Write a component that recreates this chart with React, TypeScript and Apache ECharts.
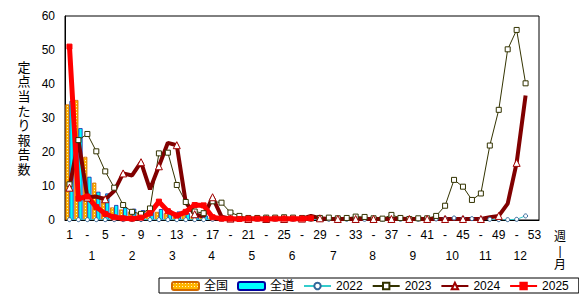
import React, { useEffect, useRef } from 'react';
import * as echarts from 'echarts';

const FONT = "'Liberation Sans', 'Noto Sans CJK JP', sans-serif";

const weeks: string[] = Array.from({ length: 53 }, (_, i) => String(i + 1));

// 2025: national / Hokkaido bars
const national2025 = [34, 35.3, 18.6, 11, 6.9, 3.7, 3.1, 2.5, 2.0, 2.6, 2.4, 2.0, 1.8, 1.5, 1.2, 1.0, 0.8, 0.6, 0.5, 0.4, 0.3, 0.3, 0.3, 0.2, 0.2, 0.2, 0.2, 0.2];
const hokkaido2025 = [35, 27, 12.7, 8.3, 7.8, 4.4, 3.7, 3.3, 2.9, 3.8, 3.2, 2.9, 2.5, 2.0, 1.6, 1.3, 1.0, 0.6, 0.5, 0.4, 0.3, 0.3, 0.3, 0.2, 0.2, 0.2, 0.2, 0.2];

const y2022 = [0.1, 0.1, 0.1, 0.1, 0.1, 0.1, 0.1, 0.1, 0.1, 0.1, 0.1, 0.1, 0.1, 0.1, 0.1, 0.1, 0.2, 0.2, 0.2, 0.2, 0.2, 0.2, 0.2, 0.2, 0.2, 0.2, 0.2, 0.2, 0.2, 0.2, 0.2, 0.2, 0.2, 0.2, 0.2, 0.2, 0.2, 0.2, 0.2, 0.2, 0.3, 0.3, 0.5, 0.6, 0.5, 0.4, 0.3, 0.2, 0.1, 0.1, 0.2, 1.2];
const y2023 = [10.5, 23.5, 25.3, 20.2, 14.3, 9.5, 4.4, 2.4, 1.8, 3.4, 19.6, 19.8, 10.3, 5.3, 2.5, 2.0, 5.5, 5.1, 2.2, 1.2, 0.6, 0.6, 0.7, 0.7, 0.8, 0.7, 0.6, 0.5, 0.6, 0.7, 0.5, 0.6, 1.0, 0.9, 0.5, 0.4, 1.5, 0.6, 0.3, 0.5, 0.5, 1.2, 4.2, 11.8, 9.8, 5.9, 7.8, 21.9, 32.4, 50.2, 55.9, 40.2];
const y2024 = [9.5, 23.5, 6.6, 6.9, 6.1, 8.5, 13.7, 13.1, 17, 9, 15.8, 22.7, 22, 5.2, 1.7, 1.0, 6.7, 1.0, 0.4, 0.3, 0.3, 0.3, 0.3, 0.3, 0.3, 0.3, 0.4, 1.2, 0.5, 0.3, 0.3, 0.3, 0.3, 0.3, 0.3, 0.3, 0.3, 0.4, 0.3, 0.3, 0.3, 0.3, 0.3, 0.3, 0.3, 0.3, 0.3, 0.8, 1.2, 4.8, 16.8, 36.6];
const y2025 = [51, 6.3, 6.9, 3.8, 1.8, 0.8, 0.5, 0.4, 0.7, 2.0, 5.4, 2.6, 1.3, 2.4, 4.4, 4.3, 0.8, 0.4, 0.4, 0.3, 0.4, 0.4, 0.3, 0.4, 0.4, 0.4, 0.4, 0.5];

const monthPositions = [3.5, 8.0, 12.5, 16.9, 21.4, 25.9, 30.5, 34.9, 39.4, 43.8, 47.5, 51.4];
const monthLabels = ['1', '2', '3', '4', '5', '6', '7', '8', '9', '10', '11', '12'];

const yTicks = { min: 0, max: 60, interval: 10 };

const dotPattern =
  'data:image/svg+xml;charset=utf-8,' +
  encodeURIComponent(
    '<svg xmlns="http://www.w3.org/2000/svg" width="3" height="3"><rect width="3" height="3" fill="#ffb400"/><rect x="1" y="1" width="1" height="1" fill="#fff4c0"/></svg>'
  );

export default function App() {
  const ref = useRef<HTMLDivElement>(null);
  useEffect(() => {
    document.body.style.margin = '0';
    if (!ref.current) return;
    const chart = echarts.init(ref.current, undefined, { renderer: 'svg' });
    chart.setOption({
      animation: false,
      textStyle: { fontFamily: FONT },
      grid: { left: 65, right: 40, top: 16, bottom: 79, show: true, borderColor: '#000', borderWidth: 1 },
      legend: {
        left: 159,
        top: 278,
        padding: [2, 10, 1, 12],
        borderColor: '#000',
        borderWidth: 1,
        itemGap: 9,
        itemWidth: 27,
        itemHeight: 8,
        textStyle: { fontSize: 12, color: '#000', fontFamily: FONT },
        data: ['全国', '全道', '2022', '2023', '2024', '2025'],
      },
      xAxis: [
        {
          type: 'category',
          data: weeks,
          boundaryGap: true,
          axisLine: { lineStyle: { color: '#000' } },
          axisTick: { show: false },
          axisLabel: {
            interval: 1,
            margin: 9,
            fontSize: 12,
            color: '#000',
            fontFamily: FONT,
            formatter: (v: string, i: number) => (i % 4 === 0 ? v : '-'),
          },
        },
        {
          type: 'value',
          position: 'bottom',
          min: 0.5,
          max: 53.5,
          offset: 21,
          axisLine: { show: false },
          axisTick: { show: false },
          splitLine: { show: false },
          axisLabel: {
            customValues: monthPositions,
            margin: 9,
            fontSize: 12,
            color: '#000',
            fontFamily: FONT,
            formatter: (v: number) => {
              const idx = monthPositions.findIndex((p) => Math.abs(p - v) < 0.01);
              return idx >= 0 ? monthLabels[idx] : '';
            },
          },
        },
      ],
      yAxis: {
        type: 'value',
        ...yTicks,
        axisLine: { show: true, lineStyle: { color: '#000' } },
        axisTick: { show: false },
        splitLine: { show: false },
        axisLabel: { fontSize: 12, color: '#000', margin: 10, fontFamily: FONT },
      },
      graphic: [
        {
          type: 'text',
          x: 24,
          y: 60,
          style: {
            text: '定\n点\n当\nた\nり\n報\n告\n数',
            font: `13px ${FONT}`,
            lineHeight: 14.6,
            fill: '#000',
            align: 'center',
            verticalAlign: 'top',
          },
        },
        {
          type: 'text',
          x: 560,
          y: 230,
          style: {
            text: '週\n|\n月',
            font: `12px ${FONT}`,
            lineHeight: 14,
            fill: '#000',
            align: 'center',
            verticalAlign: 'top',
          },
        },
      ],
      series: [
        {
          name: '全国',
          type: 'bar',
          data: national2025,
          barGap: '0%',
          barCategoryGap: '8%',
          itemStyle: {
            color: { image: dotPattern, repeat: 'repeat', imageWidth: 3, imageHeight: 3 },
            borderColor: '#d26900',
            borderWidth: 0.8,
          },
        },
        {
          name: '全道',
          type: 'bar',
          data: hokkaido2025,
          itemStyle: { color: '#00ffff', borderColor: '#0000a0', borderWidth: 0.7 },
        },
        {
          name: '2022',
          type: 'line',
          data: y2022,
          symbol: 'circle',
          symbolSize: 4,
          lineStyle: { color: '#33cccc', width: 1 },
          itemStyle: { color: '#ffffff', borderColor: '#336699', borderWidth: 1 },
        },
        {
          name: '2023',
          type: 'line',
          data: y2023,
          symbol: 'rect',
          symbolSize: 5,
          lineStyle: { color: '#333300', width: 1 },
          itemStyle: { color: '#ffffff', borderColor: '#333300', borderWidth: 1 },
        },
        {
          name: '2024',
          type: 'line',
          data: y2024,
          symbol: 'triangle',
          symbolSize: 7,
          lineStyle: { color: '#800000', width: 4 },
          itemStyle: { color: '#ffffff', borderColor: '#a00000', borderWidth: 1 },
        },
        {
          name: '2025',
          type: 'line',
          data: y2025,
          symbol: 'rect',
          symbolSize: 5,
          lineStyle: { color: '#ff0000', width: 5 },
          itemStyle: { color: '#ff0000', borderColor: '#ff0000', borderWidth: 1 },
        },
      ],
    });
    return () => chart.dispose();
  }, []);
  return <div ref={ref} style={{ width: 579, height: 299 }} />;
}
